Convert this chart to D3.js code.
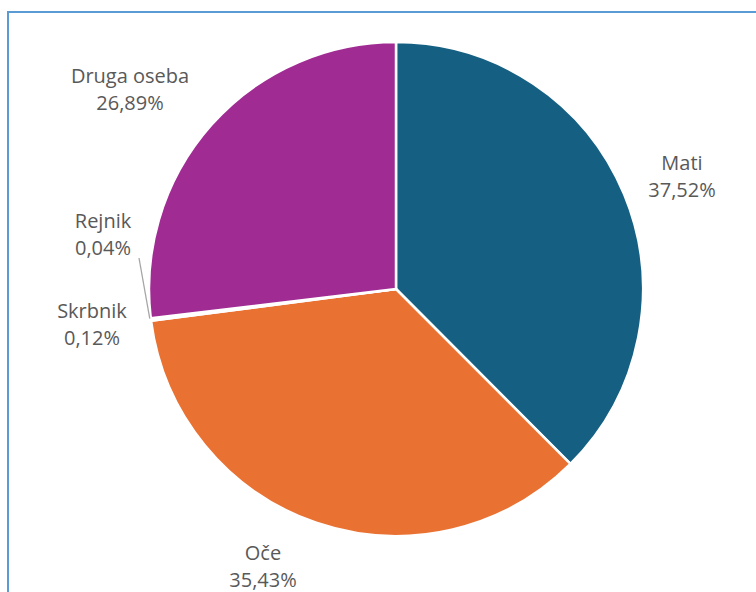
<!DOCTYPE html>
<html><head><meta charset="utf-8">
<script src="https://cdn.jsdelivr.net/npm/d3@7"></script>
<style>html,body{margin:0;padding:0;background:#fff;overflow:hidden}</style>
</head><body>
<svg id="c" width="756" height="592"></svg>
<script>
const categories = ["Mati", "Oče", "Skrbnik", "Rejnik", "Druga oseba"];
const values = [37.52, 35.43, 0.12, 0.04, 26.89];
const colors = ["#156082", "#E97132", "#196B24", "#0F9ED5", "#A02B93"];

const svg = d3.select("#c");
svg.append("rect").attr("x", 8).attr("y", 12).attr("width", 800).attr("height", 700)
  .attr("fill", "#fff").attr("stroke", "#5B9BD5").attr("stroke-width", 2);

const cx = 396, cy = 289, R = 247;
const g = svg.append("g").attr("transform", `translate(${cx},${cy})`);
const data = categories.map((c, i) => ({name: c, value: values[i], color: colors[i]}));
const pie = d3.pie().value(d => d.value).sort(null);
const arcs = pie(data);
const arc = d3.arc().innerRadius(0).outerRadius(R);

g.selectAll("path").data(arcs).join("path")
  .attr("d", arc).attr("fill", d => d.data.color)
  .attr("stroke", "#fff").attr("stroke-width", 2.5).attr("stroke-linejoin", "round");

const fmt = v => v.toFixed(2).replace(".", ",") + "%";
// label anchor (center x, first baseline) relative to pie center
const labelOffset = [[286, -119], [-133, 271], [-304, 29], [-293, -61], [-266, -206]];
arcs.forEach((a, i) => {
  const [x, y] = labelOffset[i];
  const t = g.append("text").attr("x", x).attr("y", y)
    .attr("text-anchor", "middle").attr("fill", "#595959")
    .style("font-family", "'Open Sans', sans-serif").style("font-size", "20px");
  t.append("tspan").attr("x", x).attr("y", y).text(a.data.name);
  t.append("tspan").attr("x", x).attr("y", y + 27).text(fmt(a.data.value));
});
// leader line for Rejnik
const rj = arcs[3];
const mA = (rj.startAngle + rj.endAngle) / 2;
g.append("line").attr("x1", -257).attr("y1", -31)
  .attr("x2", (R + 1) * Math.sin(mA)).attr("y2", -(R + 1) * Math.cos(mA))
  .attr("stroke", "#A6A6A6").attr("stroke-width", 1.3);
</script>
</body></html>
